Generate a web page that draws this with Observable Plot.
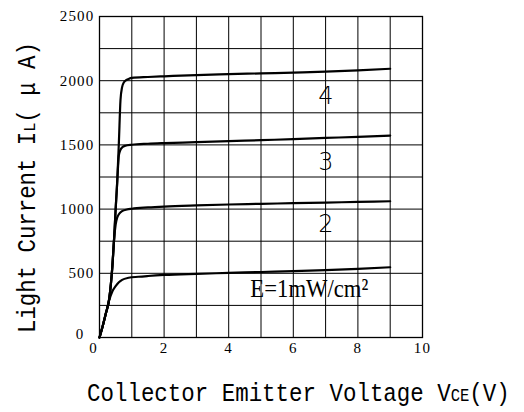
<!DOCTYPE html>
<html><head><meta charset="utf-8">
<script src="https://cdn.jsdelivr.net/npm/d3@7"></script>
<script src="https://cdn.jsdelivr.net/npm/@observablehq/plot@0.6"></script>
<style>
html,body{margin:0;padding:0;background:#fff;}
</style></head><body><div id="chart"></div>
<script>
// Tick labels and grid steps
const xTicks = [0, 2, 4, 6, 8, 10];
const yTicks = [0, 500, 1000, 1500, 2000, 2500];
const gridV = [0, 1, 2, 3, 4, 5, 6, 7, 8, 9, 10];
const gridI = [0, 250, 500, 750, 1000, 1250, 1500, 1750, 2000, 2250, 2500];

// Curve 1 (E = 1 mW/cm2)
const c1V = [0, 0.1, 0.2, 0.3, 0.4, 0.5, 0.6, 0.7, 0.9, 1.2, 1.5, 2, 3, 4, 5, 6, 7, 8, 9];
const c1I = [0, 90, 190, 290, 360, 400, 430, 449, 465, 473, 479, 487, 496, 503, 510, 517, 525, 535, 547];
// Curve 2
const c2V = [0, 0.1, 0.2, 0.3, 0.4, 0.45, 0.5, 0.55, 0.6, 0.7, 0.85, 1, 1.5, 2, 3, 4, 5, 6, 7, 8, 9];
const c2I = [0, 90, 190, 300, 560, 760, 880, 935, 960, 984, 997, 1003, 1013, 1020, 1029, 1036, 1041, 1046, 1051, 1056, 1061];
// Curve 3
const c3V = [0, 0.1, 0.2, 0.3, 0.4, 0.45, 0.5, 0.55, 0.6, 0.65, 0.7, 0.8, 1, 1.5, 2, 3, 4, 5, 6, 7, 8, 9];
const c3I = [0, 90, 190, 300, 560, 760, 1000, 1220, 1420, 1462, 1480, 1493, 1501, 1509, 1514, 1521, 1529, 1537, 1545, 1554, 1563, 1573];
// Curve 4
const c4V = [0, 0.1, 0.2, 0.3, 0.4, 0.45, 0.5, 0.55, 0.6, 0.65, 0.7, 0.75, 0.8, 0.9, 1, 1.5, 2, 3, 4, 5, 6, 7, 8, 9];
const c4I = [0, 90, 190, 300, 560, 760, 1000, 1220, 1520, 1850, 1950, 1985, 2000, 2014, 2022, 2029, 2034, 2044, 2051, 2057, 2063, 2070, 2080, 2093];

// Curve labels
const curveNames = ["2", "3", "4"];
const curveNameV = [7.03, 7.03, 7.03];
const curveNameI = [880, 1367, 1881];
const eLabel = "E=1mW/cm²";
const eLabelV = 4.67;
const eLabelI = 378;

const series = [[c1V, c1I, "1"], [c2V, c2I, "2"], [c3V, c3I, "3"], [c4V, c4I, "4"]];
const rows = series.flatMap(([vs, is, k]) => vs.map((v, j) => ({v, i: is[j], curve: k})));
const nameRows = curveNames.map((t, j) => ({t, v: curveNameV[j], i: curveNameI[j]}));
const eRows = [{t: eLabel, v: eLabelV, i: eLabelI}];
const fmt = d => String(d);

const plot = Plot.plot({
  width: 524, height: 412,
  marginLeft: 99, marginRight: 102, marginTop: 16, marginBottom: 75,
  x: {domain: [0, 10]},
  y: {domain: [0, 2500]},
  style: "background:#fff;color:#000;font-family:'Liberation Serif','Times New Roman',serif;font-size:15px;letter-spacing:1.2px;",
  marks: [
    Plot.gridX(gridV, {stroke: "#000", strokeOpacity: 1, strokeWidth: 1}),
    Plot.gridY(gridI, {stroke: "#000", strokeOpacity: 1, strokeWidth: 1}),
    Plot.frame({stroke: "#000", strokeWidth: 1.3}),
    Plot.line(rows, {x: "v", y: "i", z: "curve", stroke: "#000", strokeWidth: 2.2, curve: "monotone-x"}),
    Plot.axisX(xTicks.slice(1), {tickSize: 0, tickPadding: 5, label: null, tickFormat: fmt}),
    Plot.axisX([xTicks[0]], {tickSize: 0, tickPadding: 5, dx: -6, label: null, tickFormat: fmt}),
    Plot.axisY(yTicks.slice(1), {tickSize: 0, tickPadding: 5, label: null, tickFormat: fmt}),
    Plot.axisY([yTicks[0]], {tickSize: 0, tickPadding: 5, dx: -10, dy: -3, label: null, tickFormat: fmt}),
    Plot.text(nameRows, {x: "v", y: "i", text: "t", fontSize: 24, fontFamily: "DejaVu Sans", fontWeight: 200, fill: "#000"}),
    Plot.text(eRows, {x: "v", y: "i", text: "t", textAnchor: "start", fontSize: 26, fill: "#000", className: "elabel"})
  ]
});
document.getElementById("chart").appendChild(plot);

const svg = d3.select(plot);
svg.selectAll(".elabel text").attr("textLength", 118).attr("lengthAdjust", "spacingAndGlyphs").style("letter-spacing", "0px");

function squeeze(sel, x, y, rot, target) {
  const w = sel.node().getComputedTextLength();
  const sx = target / w;
  sel.attr("transform", `translate(${x},${y}) rotate(${rot}) scale(${sx},1)`);
}

// X axis title
const xt = svg.append("text")
  .attr("text-anchor", "start")
  .attr("font-family", "'Liberation Mono', 'DejaVu Sans Mono', monospace")
  .attr("font-size", 26)
  .style("letter-spacing", "0px")
  .attr("fill", "#000");
xt.append("tspan").text("Collector Emitter Voltage V");
xt.append("tspan").attr("font-size", 18).text("CE");
xt.append("tspan").text("(V)");
squeeze(xt, 87, 401, 0, 423);

// Y axis title
const yt = svg.append("text")
  .attr("text-anchor", "start")
  .attr("font-family", "'Liberation Mono', 'DejaVu Sans Mono', monospace")
  .attr("font-size", 25)
  .style("letter-spacing", "0px")
  .attr("fill", "#000");
yt.append("tspan").text("Light Current I");
yt.append("tspan").attr("font-size", 17).text("L");
yt.append("tspan").text("( μ A)");
squeeze(yt, 35, 333, -90, 291);
</script>
</body></html>
